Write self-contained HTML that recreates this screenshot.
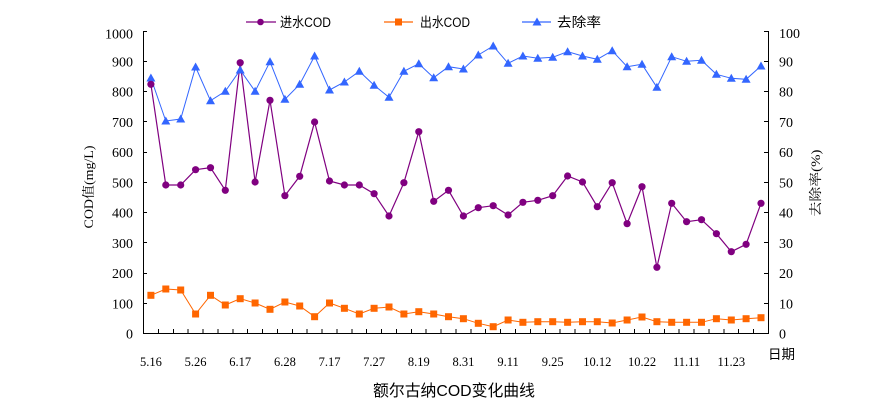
<!DOCTYPE html>
<html><head><meta charset="utf-8"><style>
html,body{margin:0;padding:0;background:#fff;}
svg{display:block;}
</style></head><body>
<svg width="895" height="411" viewBox="0 0 895 411" xmlns="http://www.w3.org/2000/svg">
<rect width="895" height="411" fill="#fff"/>
<!-- axes -->
<g stroke="#000" stroke-width="1" fill="none" shape-rendering="crispEdges">
<line x1="143.5" y1="31" x2="143.5" y2="334"/>
<line x1="768.5" y1="31" x2="768.5" y2="334"/>
<line x1="143" y1="333.5" x2="769" y2="333.5"/>
<!-- left ticks -->
<path d="M143 303.5h4M143 273.5h4M143 242.5h4M143 212.5h4M143 182.5h4M143 152.5h4M143 121.5h4M143 91.5h4M143 61.5h4M143 31.5h4"/>
<!-- right ticks -->
<path d="M764 303.5h4M764 273.5h4M764 242.5h4M764 212.5h4M764 182.5h4M764 152.5h4M764 121.5h4M764 91.5h4M764 61.5h4M764 31.5h4"/>
<!-- x ticks -->
<path d="M158.4 329v4M173.3 329v4M188.1 329v4M203 329v4M217.9 329v4M232.8 329v4M247.7 329v4M262.5 329v4M277.4 329v4M292.3 329v4M307.2 329v4M322.1 329v4M336.9 329v4M351.8 329v4M366.7 329v4M381.6 329v4M396.5 329v4M411.3 329v4M426.2 329v4M441.1 329v4M456 329v4M470.9 329v4M485.7 329v4M500.6 329v4M515.5 329v4M530.4 329v4M545.3 329v4M560.1 329v4M575 329v4M589.9 329v4M604.8 329v4M619.7 329v4M634.5 329v4M649.4 329v4M664.3 329v4M679.2 329v4M694.1 329v4M708.9 329v4M723.8 329v4M738.7 329v4M753.6 329v4"/>
</g>
<!-- left labels -->
<g font-family="Liberation Serif, serif" font-size="14" fill="#000" text-anchor="end">
<text x="133" y="338.5">0</text>
<text x="133" y="308.3">100</text>
<text x="133" y="278">200</text>
<text x="133" y="247.8">300</text>
<text x="133" y="217.6">400</text>
<text x="133" y="187.3">500</text>
<text x="133" y="157.1">600</text>
<text x="133" y="126.9">700</text>
<text x="133" y="96.7">800</text>
<text x="133" y="66.4">900</text>
<text x="133" y="38.5">1000</text>
</g>
<!-- right labels -->
<g font-family="Liberation Serif, serif" font-size="14" fill="#000" text-anchor="start">
<text x="779" y="338.5">0</text>
<text x="779" y="308.3">10</text>
<text x="779" y="278">20</text>
<text x="779" y="247.8">30</text>
<text x="779" y="217.6">40</text>
<text x="779" y="187.3">50</text>
<text x="779" y="157.1">60</text>
<text x="779" y="126.9">70</text>
<text x="779" y="96.7">80</text>
<text x="779" y="66.4">90</text>
<text x="779" y="38">100</text>
</g>
<!-- x labels -->
<g font-family="Liberation Serif, serif" font-size="12.5" fill="#000" text-anchor="middle">
<text x="150.9" y="366">5.16</text>
<text x="195.6" y="366">5.26</text>
<text x="240.2" y="366">6.17</text>
<text x="284.9" y="366">6.28</text>
<text x="329.5" y="366">7.17</text>
<text x="374.1" y="366">7.27</text>
<text x="418.8" y="366">8.19</text>
<text x="463.4" y="366">8.31</text>
<text x="508.1" y="366">9.11</text>
<text x="552.7" y="366">9.25</text>
<text x="597.3" y="366">10.12</text>
<text x="642" y="366">10.22</text>
<text x="686.6" y="366">11.11</text>
<text x="731.3" y="366">11.23</text>
</g>
<text x="768" y="359" font-family="Liberation Sans, 'Noto Sans CJK SC', sans-serif" font-size="13.5" fill="#000" textLength="27" lengthAdjust="spacingAndGlyphs">日期</text>
<!-- axis titles -->
<text transform="translate(93,187) rotate(-90)" text-anchor="middle" font-family="Liberation Serif, 'Noto Serif CJK SC', serif" font-size="13" fill="#000" textLength="83" lengthAdjust="spacingAndGlyphs">COD值(mg/L)</text>
<text transform="translate(820,183) rotate(-90)" text-anchor="middle" font-family="Liberation Serif, 'Noto Serif CJK SC', serif" font-size="13" fill="#000" textLength="67" lengthAdjust="spacingAndGlyphs">去除率(%)</text>
<!-- title -->
<text x="454" y="396" text-anchor="middle" font-family="Liberation Sans, 'Noto Sans CJK SC', sans-serif" font-size="16" fill="#000" textLength="162" lengthAdjust="spacingAndGlyphs">额尔古纳COD变化曲线</text>

<!-- series: 去除率 -->
<polyline fill="none" stroke="#3366FF" stroke-width="1" points="150.9,78 165.8,121 180.7,119 195.6,67 210.5,100.7 225.3,91.3 240.2,70 255.1,91.3 270,61.7 284.9,99.3 299.7,84.3 314.6,56 329.5,90 344.4,82 359.3,71.3 374.1,85.3 389,97.3 403.9,71.3 418.8,63.7 433.7,77.7 448.5,66.7 463.4,69 478.3,55 493.2,46 508.1,63.3 522.9,56 537.8,58.3 552.7,57.3 567.6,51.7 582.5,56 597.3,59.3 612.2,50.7 627.1,66.7 642,64.3 656.9,87.3 671.7,56.7 686.6,61.3 701.5,60.3 716.4,74.3 731.3,78.3 746.1,79.3 761,66"/>
<!-- series: 进水COD -->
<polyline fill="none" stroke="#800080" stroke-width="1.2" points="150.9,84.3 165.8,185 180.7,185 195.6,169.7 210.5,167.7 225.3,190.3 240.2,62.7 255.1,182 270,100.3 284.9,195.7 299.7,176.3 314.6,122 329.5,181 344.4,185 359.3,185 374.1,193.7 389,216 403.9,182.7 418.8,131.7 433.7,201.3 448.5,190.3 463.4,216 478.3,207.7 493.2,205.7 508.1,215 522.9,202.3 537.8,200.3 552.7,195.7 567.6,176 582.5,182 597.3,206.7 612.2,182.7 627.1,223.7 642,186.7 656.9,267.3 671.7,203.3 686.6,221.7 701.5,219.7 716.4,233.7 731.3,251.7 746.1,244.3 761,203.3"/>
<!-- series: 出水COD -->
<polyline fill="none" stroke="#FF6600" stroke-width="1" points="150.9,295.3 165.8,289 180.7,290 195.6,314 210.5,295.3 225.3,305 240.2,298.7 255.1,303 270,309.3 284.9,302 299.7,306 314.6,316.7 329.5,303 344.4,308.3 359.3,314 374.1,308.3 389,307 403.9,314 418.8,311.7 433.7,314 448.5,316.7 463.4,318.7 478.3,323.3 493.2,326.7 508.1,320 522.9,322.3 537.8,321.7 552.7,321.7 567.6,322.3 582.5,321.7 597.3,321.7 612.2,323 627.1,320 642,317 656.9,321.7 671.7,322.3 686.6,322.3 701.5,322.3 716.4,318.7 731.3,320 746.1,318.7 761,317.7"/>

<!-- markers 去除率 -->
<g fill="#3366FF">
<path d="M150.9 73.5l4.5 8h-9z M165.8 116.5l4.5 8h-9z M180.7 114.5l4.5 8h-9z M195.6 62.5l4.5 8h-9z M210.5 96.2l4.5 8h-9z M225.3 86.8l4.5 8h-9z M240.2 65.5l4.5 8h-9z M255.1 86.8l4.5 8h-9z M270 57.2l4.5 8h-9z M284.9 94.8l4.5 8h-9z M299.7 79.8l4.5 8h-9z M314.6 51.5l4.5 8h-9z M329.5 85.5l4.5 8h-9z M344.4 77.5l4.5 8h-9z M359.3 66.8l4.5 8h-9z M374.1 80.8l4.5 8h-9z M389 92.8l4.5 8h-9z M403.9 66.8l4.5 8h-9z M418.8 59.2l4.5 8h-9z M433.7 73.2l4.5 8h-9z M448.5 62.2l4.5 8h-9z M463.4 64.5l4.5 8h-9z M478.3 50.5l4.5 8h-9z M493.2 41.5l4.5 8h-9z M508.1 58.8l4.5 8h-9z M522.9 51.5l4.5 8h-9z M537.8 53.8l4.5 8h-9z M552.7 52.8l4.5 8h-9z M567.6 47.2l4.5 8h-9z M582.5 51.5l4.5 8h-9z M597.3 54.8l4.5 8h-9z M612.2 46.2l4.5 8h-9z M627.1 62.2l4.5 8h-9z M642 59.8l4.5 8h-9z M656.9 82.8l4.5 8h-9z M671.7 52.2l4.5 8h-9z M686.6 56.8l4.5 8h-9z M701.5 55.8l4.5 8h-9z M716.4 69.8l4.5 8h-9z M731.3 73.8l4.5 8h-9z M746.1 74.8l4.5 8h-9z M761 61.5l4.5 8h-9z"/>
</g>
<!-- markers 进水COD -->
<g fill="#800080">
<circle cx="150.9" cy="84.3" r="3.6"/><circle cx="165.8" cy="185" r="3.6"/><circle cx="180.7" cy="185" r="3.6"/><circle cx="195.6" cy="169.7" r="3.6"/><circle cx="210.5" cy="167.7" r="3.6"/><circle cx="225.3" cy="190.3" r="3.6"/><circle cx="240.2" cy="62.7" r="3.6"/><circle cx="255.1" cy="182" r="3.6"/><circle cx="270" cy="100.3" r="3.6"/><circle cx="284.9" cy="195.7" r="3.6"/><circle cx="299.7" cy="176.3" r="3.6"/><circle cx="314.6" cy="122" r="3.6"/><circle cx="329.5" cy="181" r="3.6"/><circle cx="344.4" cy="185" r="3.6"/><circle cx="359.3" cy="185" r="3.6"/><circle cx="374.1" cy="193.7" r="3.6"/><circle cx="389" cy="216" r="3.6"/><circle cx="403.9" cy="182.7" r="3.6"/><circle cx="418.8" cy="131.7" r="3.6"/><circle cx="433.7" cy="201.3" r="3.6"/><circle cx="448.5" cy="190.3" r="3.6"/><circle cx="463.4" cy="216" r="3.6"/><circle cx="478.3" cy="207.7" r="3.6"/><circle cx="493.2" cy="205.7" r="3.6"/><circle cx="508.1" cy="215" r="3.6"/><circle cx="522.9" cy="202.3" r="3.6"/><circle cx="537.8" cy="200.3" r="3.6"/><circle cx="552.7" cy="195.7" r="3.6"/><circle cx="567.6" cy="176" r="3.6"/><circle cx="582.5" cy="182" r="3.6"/><circle cx="597.3" cy="206.7" r="3.6"/><circle cx="612.2" cy="182.7" r="3.6"/><circle cx="627.1" cy="223.7" r="3.6"/><circle cx="642" cy="186.7" r="3.6"/><circle cx="656.9" cy="267.3" r="3.6"/><circle cx="671.7" cy="203.3" r="3.6"/><circle cx="686.6" cy="221.7" r="3.6"/><circle cx="701.5" cy="219.7" r="3.6"/><circle cx="716.4" cy="233.7" r="3.6"/><circle cx="731.3" cy="251.7" r="3.6"/><circle cx="746.1" cy="244.3" r="3.6"/><circle cx="761" cy="203.3" r="3.6"/>
</g>
<!-- markers 出水COD -->
<g fill="#FF6600">
<rect x="147.4" y="291.8" width="7" height="7"/><rect x="162.3" y="285.5" width="7" height="7"/><rect x="177.2" y="286.5" width="7" height="7"/><rect x="192.1" y="310.5" width="7" height="7"/><rect x="207" y="291.8" width="7" height="7"/><rect x="221.8" y="301.5" width="7" height="7"/><rect x="236.7" y="295.2" width="7" height="7"/><rect x="251.6" y="299.5" width="7" height="7"/><rect x="266.5" y="305.8" width="7" height="7"/><rect x="281.4" y="298.5" width="7" height="7"/><rect x="296.2" y="302.5" width="7" height="7"/><rect x="311.1" y="313.2" width="7" height="7"/><rect x="326" y="299.5" width="7" height="7"/><rect x="340.9" y="304.8" width="7" height="7"/><rect x="355.8" y="310.5" width="7" height="7"/><rect x="370.6" y="304.8" width="7" height="7"/><rect x="385.5" y="303.5" width="7" height="7"/><rect x="400.4" y="310.5" width="7" height="7"/><rect x="415.3" y="308.2" width="7" height="7"/><rect x="430.2" y="310.5" width="7" height="7"/><rect x="445" y="313.2" width="7" height="7"/><rect x="459.9" y="315.2" width="7" height="7"/><rect x="474.8" y="319.8" width="7" height="7"/><rect x="489.7" y="323.2" width="7" height="7"/><rect x="504.6" y="316.5" width="7" height="7"/><rect x="519.4" y="318.8" width="7" height="7"/><rect x="534.3" y="318.2" width="7" height="7"/><rect x="549.2" y="318.2" width="7" height="7"/><rect x="564.1" y="318.8" width="7" height="7"/><rect x="579" y="318.2" width="7" height="7"/><rect x="593.8" y="318.2" width="7" height="7"/><rect x="608.7" y="319.5" width="7" height="7"/><rect x="623.6" y="316.5" width="7" height="7"/><rect x="638.5" y="313.5" width="7" height="7"/><rect x="653.4" y="318.2" width="7" height="7"/><rect x="668.2" y="318.8" width="7" height="7"/><rect x="683.1" y="318.8" width="7" height="7"/><rect x="698" y="318.8" width="7" height="7"/><rect x="712.9" y="315.2" width="7" height="7"/><rect x="727.8" y="316.5" width="7" height="7"/><rect x="742.6" y="315.2" width="7" height="7"/><rect x="757.5" y="314.2" width="7" height="7"/>
</g>

<!-- legend -->
<g>
<line x1="246" y1="22" x2="276" y2="22" stroke="#800080" stroke-width="1.2"/>
<circle cx="260.5" cy="22" r="3.3" fill="#800080"/>
<text x="280" y="27" font-family="Liberation Sans, 'Noto Sans CJK SC', sans-serif" font-size="13.5" fill="#000" textLength="51" lengthAdjust="spacingAndGlyphs">进水COD</text>
<line x1="384" y1="22" x2="413" y2="22" stroke="#FF6600" stroke-width="1.2"/>
<rect x="395" y="18.5" width="7" height="7" fill="#FF6600"/>
<text x="420" y="27" font-family="Liberation Sans, 'Noto Sans CJK SC', sans-serif" font-size="13.5" fill="#000" textLength="50" lengthAdjust="spacingAndGlyphs">出水COD</text>
<line x1="522" y1="22" x2="551" y2="22" stroke="#3366FF" stroke-width="1.2"/>
<path d="M537 17.5l4.5 8h-9z" fill="#3366FF"/>
<text x="557" y="27" font-family="Liberation Sans, 'Noto Sans CJK SC', sans-serif" font-size="13.5" fill="#000" textLength="44" lengthAdjust="spacingAndGlyphs">去除率</text>
</g>
</svg>
</body></html>
